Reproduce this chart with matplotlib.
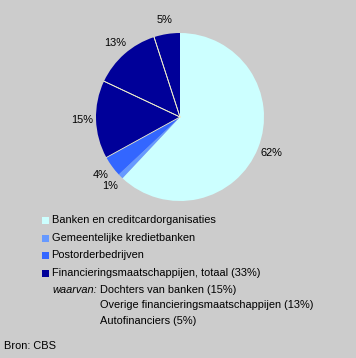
import matplotlib.pyplot as plt
from matplotlib.patches import Rectangle
import numpy as np

# data
categories = ['Banken en creditcardorganisaties', 'Gemeentelijke kredietbanken',
              'Postorderbedrijven', 'Financieringsmaatschappijen, totaal (33%)']
legend_colors = ['#CCFFFF', '#6699FF', '#3366FF', '#000099']
slice_values = [62, 1, 4, 15, 13, 5]
slice_colors = ['#CCFFFF', '#6699FF', '#3366FF', '#000099', '#000099', '#000099']
sub_items = ['Dochters van banken (15%)', 'Overige financieringsmaatschappijen (13%)',
             'Autofinanciers (5%)']

W, H = 356, 358
plt.rcParams['font.family'] = ['Liberation Sans', 'DejaVu Sans']
fig = plt.figure(figsize=(W / 100, H / 100), dpi=100)
fig.patch.set_facecolor('#CCCCCC')

fs = 7.9

cx, cy, r = 180, 117, 84
ax = fig.add_axes([(cx - r) / W, 1 - (cy + r) / H, 2 * r / W, 2 * r / H])
ax.set_facecolor('none')
wedges, texts = ax.pie(slice_values, colors=slice_colors, startangle=90, counterclock=False,
                       labels=[f'{v}%' for v in slice_values], labeldistance=1.17,
                       wedgeprops=dict(linewidth=0), textprops=dict(fontsize=fs))
for t in texts:
    t.set_ha('center')
    t.set_va('center')
ax.set_xlim(-1, 1)
ax.set_ylim(-1, 1)
ax.axis('off')

# light separator lines between the finance slices
for w in wedges[3:]:
    for th in (w.theta1, w.theta2):
        if abs((th % 360) - 90) < 0.5:
            continue
        a = np.deg2rad(th)
        ax.plot([0, np.cos(a)], [0, np.sin(a)], color='#EEEECC', lw=0.6)

def fy(py):
    return 1 - py / H

rows = [220, 238, 255, 273]
for lab, col, py in zip(categories, legend_colors, rows):
    fig.patches.append(Rectangle((42 / W, fy(py + 3.5)), 7 / W, 7 / H,
                                 transform=fig.transFigure, facecolor=col, edgecolor='none'))
    fig.text(51.5 / W, fy(py), lab, fontsize=fs, va='center', ha='left')

fig.text(52 / W, fy(290), 'waarvan:', fontsize=fs, style='italic', va='center')
for i, s in enumerate(sub_items):
    fig.text(100 / W, fy(290 + 15.5 * i), s, fontsize=fs, va='center')

fig.text(4 / W, fy(346), 'Bron: CBS', fontsize=fs, va='center')

fig.savefig('out.png', dpi=100, facecolor=fig.get_facecolor())
